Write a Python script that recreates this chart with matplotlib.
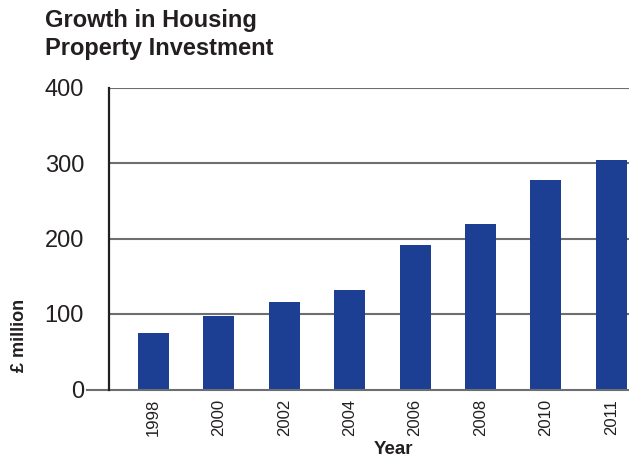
import matplotlib.pyplot as plt

plt.rcParams['font.family'] = ['Liberation Sans', 'DejaVu Sans']

years = ["1998", "2000", "2002", "2004", "2006", "2008", "2010", "2011"]
investment = [75, 97, 116, 132, 191, 219, 277, 304]

BAR = "#1c3f94"
GRID = "#6d6e71"
DARK = "#231f20"

fig = plt.figure(figsize=(6.29, 4.58), dpi=100)
ax = fig.add_axes([109 / 629, 68.5 / 458, 520 / 629, 302 / 458])

x = list(range(len(years)))
ax.bar(x, investment, width=0.475, color=BAR, zorder=3)

ax.set_xlim(-0.68, 7.27)
ax.set_ylim(0, 400)
ax.set_yticks([0, 100, 200, 300, 400])
ax.set_xticks(x)
ax.set_xticklabels(years, rotation=90, fontsize=12, color=DARK)

for v in [100, 200, 300, 400]:
    ax.axhline(v, color=GRID, lw=1.5, zorder=1)
# zero line pokes out past the axis
ax.axhline(0, xmin=-22 / 520, xmax=1, color=GRID, lw=1.5, clip_on=False, zorder=4)

for s in ["top", "right", "bottom"]:
    ax.spines[s].set_visible(False)
ax.spines["left"].set_color(DARK)
ax.spines["left"].set_linewidth(1.6)
ax.spines["left"].set_zorder(5)

ax.tick_params(axis="y", length=0, pad=18, labelsize=17, labelcolor=DARK)
ax.tick_params(axis="x", length=0, pad=7)

fig.text(45 / 629, 1 - 27 / 458, "Growth in Housing", fontsize=17,
         fontweight="bold", color=DARK, va="baseline")
fig.text(45 / 629, 1 - 55 / 458, "Property Investment", fontsize=17,
         fontweight="bold", color=DARK, va="baseline")
fig.text(20 / 629, 1 - 335 / 458, "£ million", rotation=90, fontsize=13,
         fontweight="bold", color=DARK, ha="center", va="center")
fig.text(393 / 629, 1 - 450 / 458, "Year", fontsize=13.5, fontweight="bold",
         color=DARK, ha="center", va="center")

fig.savefig("out.png", dpi=100)
